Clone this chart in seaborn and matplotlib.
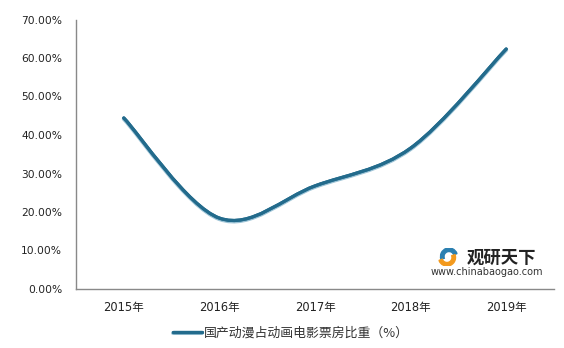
import numpy as np
import pandas as pd
import matplotlib
matplotlib.use("Agg")
import matplotlib.pyplot as plt
import matplotlib.patheffects as pe
from matplotlib.path import Path
from matplotlib.patches import PathPatch, Wedge
from matplotlib.lines import Line2D
import seaborn as sns

years = ["2015年", "2016年", "2017年", "2018年", "2019年"]
share = [44.43, 18.42, 26.78, 36.59, 62.34]
yticks = [0, 10, 20, 30, 40, 50, 60, 70]
series_name = "国产动漫占动画电影票房比重（%）"

sns.set_theme(style="white")
plt.rcParams['font.family'] = ['DejaVu Sans', 'Noto Sans CJK SC']

fig = plt.figure(figsize=(5.64, 3.48), dpi=100)
ax = fig.add_axes([76/564, 1-289/348, (554-76)/564, (289-19.5)/348])

df = pd.DataFrame({"x": np.arange(len(years)), "y": share})
sns.lineplot(data=df, x="x", y="y", ax=ax, linewidth=0, legend=False)

# Excel-like smoothed curve via cubic Bezier segments
xs = df["x"].to_numpy(float)
ys = df["y"].to_numpy(float)
n = len(xs)
verts = [(xs[0], ys[0])]
codes = [Path.MOVETO]
t = 1/6
for i in range(n-1):
    p0 = (xs[max(i-1, 0)], ys[max(i-1, 0)])
    p1 = (xs[i], ys[i])
    p2 = (xs[i+1], ys[i+1])
    p3 = (xs[min(i+2, n-1)], ys[min(i+2, n-1)])
    c1 = (p1[0] + (p2[0]-p0[0])*t, p1[1] + (p2[1]-p0[1])*t)
    c2 = (p2[0] - (p3[0]-p1[0])*t, p2[1] - (p3[1]-p1[1])*t)
    verts += [c1, c2, p2]
    codes += [Path.CURVE4]*3
path = Path(verts, codes)
main_color = "#236b8c"
def effects():
    return [pe.Stroke(linewidth=2.9, foreground="#9cc3d6", offset=(0, -0.7)),
            pe.Stroke(linewidth=2.3, foreground=main_color), pe.Normal()]
patch = PathPatch(path, facecolor="none", edgecolor=main_color, lw=2.3,
                  capstyle="round", path_effects=effects())
ax.add_patch(patch)

ax.set_xlim(-0.5, n-0.5)
ax.set_ylim(0, 70)
ax.set_yticks(yticks)
ax.set_yticklabels([f"{v:.2f}%" for v in yticks], fontsize=7.7, color="#222222")
ax.set_xticks(np.arange(n))
ax.set_xticklabels(years, fontsize=8.3, color="#222222")
ax.set_xticks(np.arange(n+1)-0.5, minor=True)
ax.tick_params(axis="x", which="major", length=0, pad=9)
ax.tick_params(axis="x", which="minor", length=4, width=1, color="#898989", direction="out")
ax.tick_params(axis="y", length=4, width=1, color="#898989", direction="out", pad=6)
ax.set_xlabel("")
ax.set_ylabel("")
for s in ["top", "right"]:
    ax.spines[s].set_visible(False)
for s in ["left", "bottom"]:
    ax.spines[s].set_color("#898989")
    ax.spines[s].set_linewidth(1)

handle = Line2D([], [], color=main_color, lw=2.3, path_effects=effects())
leg = fig.legend([handle], [series_name], loc="center", bbox_to_anchor=(291/564, 1-333/348),
                 frameon=False, handlelength=2.3, handletextpad=0.15,
                 prop={'family': ['Noto Sans CJK SC', 'DejaVu Sans'], 'size': 9.3})
for txt in leg.get_texts():
    txt.set_color("#333333")

# watermark
fig.text(467/564, 1-258/348, "观研天下", fontsize=12.5, fontweight="bold", color="#222222",
         family=['Noto Sans CJK SC'], va="center", ha="left")
fig.text(487/564, 1-272/348, "www.chinabaogao.com", fontsize=7, color="#333333",
         va="center", ha="center")
cx, cy = 448/564, 1-257/348
ax_logo = fig.add_axes([cx-12/564, cy-9/348, 24/564, 18/348])
ax_logo.set_xlim(-1.2, 1.2); ax_logo.set_ylim(-0.9, 0.9); ax_logo.axis("off")
ax_logo.add_patch(Wedge((0.1, 0.05), 0.85, 20, 200, width=0.35, color="#2a7fb0"))
ax_logo.add_patch(Wedge((-0.1, -0.05), 0.85, 200, 380, width=0.35, color="#f39a1e"))

fig.savefig("out.png", dpi=100)
